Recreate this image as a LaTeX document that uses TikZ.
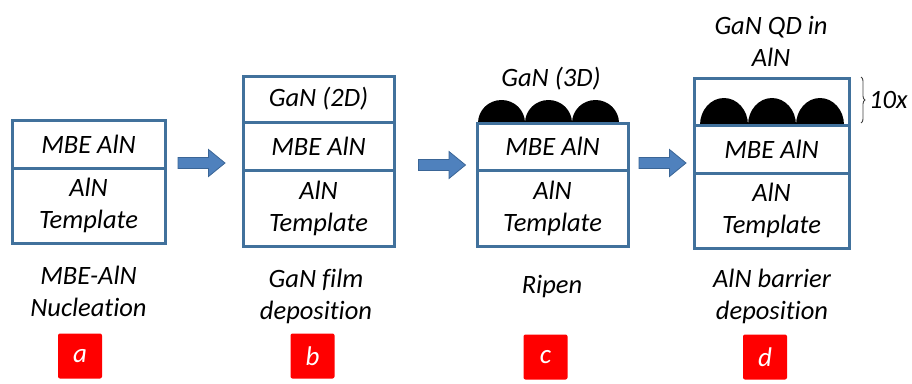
\documentclass[tikz,border=0pt]{standalone}
\usepackage{fontspec}
\setmainfont{Carlito}[Ligatures=NoCommon]
\usetikzlibrary{decorations.pathreplacing}
\definecolor{boxblue}{HTML}{41719C}
\definecolor{arrfill}{HTML}{4F81BD}
\definecolor{arrdraw}{HTML}{3A6596}
\tikzset{
  txt/.style={font=\fontsize{26.5}{32}\selectfont\itshape, align=center, inner sep=0pt, text=black},
  layer/.style={txt, draw=boxblue, line width=3pt, rectangle, inner sep=0pt},
  pics/blockarrow/.style={code={
    \filldraw[fill=arrfill, draw=arrdraw, line width=0.8pt, line join=miter]
      (-23.5,-5.5) -- (7,-5.5) -- (7,-13.5) -- (23.5,0) -- (7,13.5) -- (7,5.5) -- (-23.5,5.5) -- cycle;}},
  tag/.style={font=\fontsize{27}{30}\selectfont\itshape, text=white, fill=red, rounded corners=2pt, minimum width=44pt, minimum height=45pt, inner sep=0pt},
  dome/.style={fill=black}
}
\begin{document}
\begin{tikzpicture}[x=1pt,y=-1pt]
\useasboundingbox (0,0) rectangle (912,383);
% domes c
\fill[dome] (478,123) arc[start angle=180,end angle=360,x radius=23.5,y radius=23];
\fill[dome] (525,123) arc[start angle=180,end angle=360,x radius=23.5,y radius=23];
\fill[dome] (572,123) arc[start angle=180,end angle=360,x radius=23.5,y radius=23];
% domes d
\fill[dome] (700,125) arc[start angle=180,end angle=360,x radius=24,y radius=27];
\fill[dome] (748,125) arc[start angle=180,end angle=360,x radius=24,y radius=27];
\fill[dome] (796,125) arc[start angle=180,end angle=360,x radius=24,y radius=27];
% box a
\node[layer, minimum width=153pt, minimum height=48pt] (a1) at (88.5,144) {MBE AlN};
\node[layer, minimum width=153pt, minimum height=75pt] (a2) at (88.5,205.5) {AlN\\Template};
% box b
\node[layer, minimum width=151pt, minimum height=46pt] (b0) at (318.5,99) {GaN (2D)};
\node[layer, minimum width=151pt, minimum height=48pt] (b1) at (318.5,146) {MBE AlN};
\node[layer, minimum width=151pt, minimum height=76pt] (b2) at (318.5,208) {AlN\\Template};
% box c
\node[layer, minimum width=151pt, minimum height=47pt] (c1) at (552.5,146.5) {MBE AlN};
\node[layer, minimum width=151pt, minimum height=76pt] (c2) at (552.5,208) {AlN\\Template};
\node[txt] (c0) at (551,79) {GaN (3D)};
% box d
\node[layer, minimum width=155pt, minimum height=47pt] (d0) at (771.5,101.5) {};
\node[layer, minimum width=155pt, minimum height=48pt] (d1) at (771.5,149) {MBE AlN};
\node[layer, minimum width=155pt, minimum height=75pt] (d2) at (771.5,210.5) {AlN\\Template};
\node[txt] (dt) at (771,41) {GaN QD in\\AlN};
% brace
\draw[decorate, decoration={brace, amplitude=4pt}, line width=0.9pt, black!75] (861,77) -- (861,123);
\node[txt, anchor=west] (ten) at (869,100) {10x};
% arrows
\pic at (201.5,163) {blockarrow};
\pic at (442,165) {blockarrow};
\pic at (662.5,163) {blockarrow};
% captions
\node[txt] (la) at (88.5,291) {MBE-AlN\\Nucleation};
\node[txt] (lb) at (316,296) {GaN film\\deposition};
\node[txt] (lc) at (552,287) {Ripen};
\node[txt] (ld) at (772,296) {AlN barrier\\deposition};
% tags
\node[tag] (ta) at (80,356) {a};
\node[tag] (tb) at (312.5,356) {b};
\node[tag] (tc) at (545.5,357) {c};
\node[tag] (td) at (765,357) {d};
\end{tikzpicture}
\end{document}
